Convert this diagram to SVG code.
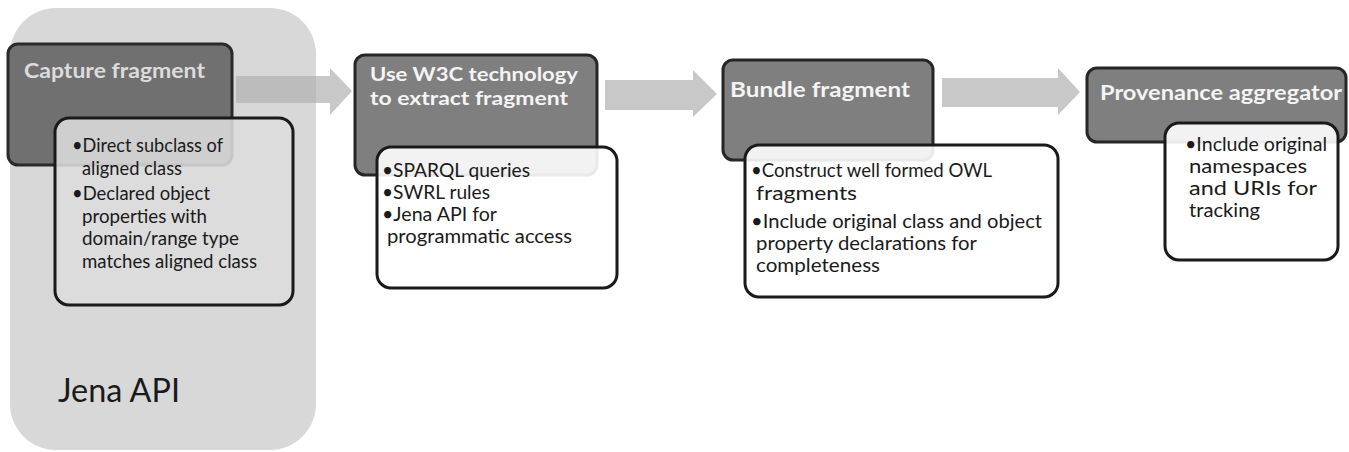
<svg xmlns="http://www.w3.org/2000/svg" width="1349" height="452" viewBox="0 0 1349 452">
<style>
  .hdr { fill: #7f7f7f; stroke: #262626; stroke-width: 3; }
  .body { fill: #ffffff; fill-opacity: 0.9; stroke: #1a1a1a; stroke-width: 3; }
  .title { font-family: Lato, "Liberation Sans", sans-serif; font-weight: bold; font-size: 21.5px; fill: #f4f4f4; }
  .title2 { font-size: 19.5px; }
  .txt { font-family: Lato, "Liberation Sans", sans-serif; font-size: 18.5px; fill: #1a1a1a; }
  .arrow { fill: #b0b0b0; fill-opacity: 0.7; }
</style>
<rect width="1349" height="452" fill="#ffffff"/>

<g id="jena-api">
  <rect x="10" y="8" width="306" height="442" rx="46" fill="#d8d8d8"/>
  <text x="58" y="402" font-family="Lato, 'Liberation Sans', sans-serif" font-size="33" fill="#1a1a1a" textLength="122" lengthAdjust="spacingAndGlyphs">Jena API</text>
</g>

<g id="connectors">
  <polygon class="arrow" points="236,76 330,76 330,68 352,91 330,115 330,103 236,103"/>
  <polygon class="arrow" points="605,80 693,80 693,70 717,94 693,117 693,110 605,110"/>
  <polygon class="arrow" points="942,78 1058,78 1058,68 1080,92 1058,115 1058,107 942,107"/>
</g>

<g id="capture-fragment">
  <rect x="8" y="44" width="224" height="121" rx="10" fill="#707070" stroke="#2a2a2a" stroke-width="3"/>
  <text class="title" x="24" y="78" style="fill:#dcdcdc" textLength="181" lengthAdjust="spacingAndGlyphs">Capture fragment</text>
  <rect x="55" y="118" width="238" height="187" rx="14" fill="#dcdcdc" fill-opacity="0.88" stroke="#1a1a1a" stroke-width="3"/>
  <text class="txt" x="72" y="152" textLength="151" lengthAdjust="spacingAndGlyphs">•Direct subclass of</text>
  <text class="txt" x="82" y="175" textLength="100" lengthAdjust="spacingAndGlyphs">aligned class</text>
  <text class="txt" x="72" y="200" textLength="138" lengthAdjust="spacingAndGlyphs">•Declared object</text>
  <text class="txt" x="82" y="223" textLength="125" lengthAdjust="spacingAndGlyphs">properties with</text>
  <text class="txt" x="82" y="245" textLength="157" lengthAdjust="spacingAndGlyphs">domain/range type</text>
  <text class="txt" x="82" y="268" textLength="175" lengthAdjust="spacingAndGlyphs">matches aligned class</text>
</g>

<g id="w3c-extract">
  <rect class="hdr" x="355" y="55" width="242" height="120" rx="10"/>
  <text class="title title2" x="370" y="81" textLength="208" lengthAdjust="spacingAndGlyphs">Use W3C technology</text>
  <text class="title title2" x="370" y="105" textLength="198" lengthAdjust="spacingAndGlyphs">to extract fragment</text>
  <rect class="body" x="377" y="147" width="240" height="141" rx="14"/>
  <text class="txt" x="382" y="177" textLength="148" lengthAdjust="spacingAndGlyphs">•SPARQL queries</text>
  <text class="txt" x="382" y="199" textLength="108" lengthAdjust="spacingAndGlyphs">•SWRL rules</text>
  <text class="txt" x="382" y="221" textLength="115" lengthAdjust="spacingAndGlyphs">•Jena API for</text>
  <text class="txt" x="387" y="243" textLength="185" lengthAdjust="spacingAndGlyphs">programmatic access</text>
</g>

<g id="bundle-fragment">
  <rect class="hdr" x="723" y="60" width="210" height="100" rx="10"/>
  <text class="title" x="730" y="97" textLength="180" lengthAdjust="spacingAndGlyphs">Bundle fragment</text>
  <rect class="body" x="745" y="145" width="313" height="152" rx="14"/>
  <text class="txt" x="751" y="177" textLength="241" lengthAdjust="spacingAndGlyphs">•Construct well formed OWL</text>
  <text class="txt" x="756" y="200" textLength="101" lengthAdjust="spacingAndGlyphs">fragments</text>
  <text class="txt" x="751" y="228" textLength="291" lengthAdjust="spacingAndGlyphs">•Include original class and object</text>
  <text class="txt" x="756" y="250" textLength="221" lengthAdjust="spacingAndGlyphs">property declarations for</text>
  <text class="txt" x="756" y="272" textLength="124" lengthAdjust="spacingAndGlyphs">completeness</text>
</g>

<g id="provenance-aggregator">
  <rect class="hdr" x="1087" y="68" width="259" height="74" rx="10"/>
  <text class="title" x="1100" y="100" textLength="242" lengthAdjust="spacingAndGlyphs">Provenance aggregator</text>
  <rect class="body" x="1165" y="123" width="173" height="137" rx="14"/>
  <text class="txt" x="1185" y="151" textLength="142" lengthAdjust="spacingAndGlyphs">•Include original</text>
  <text class="txt" x="1189" y="173" textLength="118" lengthAdjust="spacingAndGlyphs">namespaces</text>
  <text class="txt" x="1189" y="195" textLength="128" lengthAdjust="spacingAndGlyphs">and URIs for</text>
  <text class="txt" x="1189" y="217" textLength="71" lengthAdjust="spacingAndGlyphs">tracking</text>
</g>
</svg>
